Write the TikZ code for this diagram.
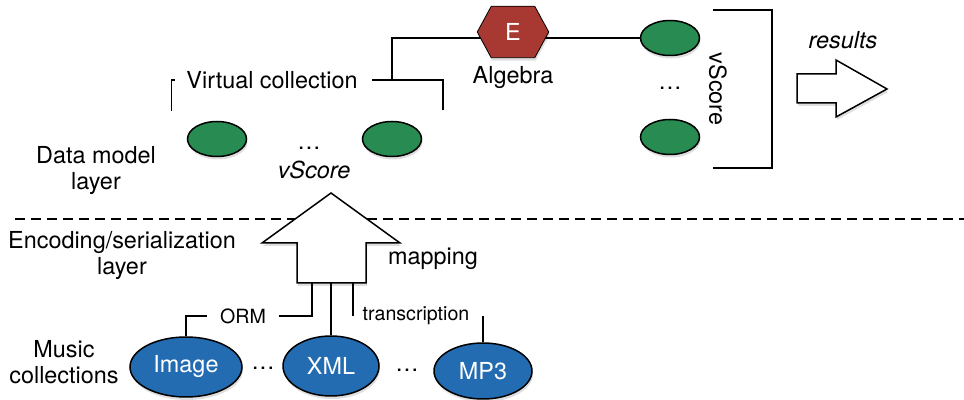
\documentclass[tikz,border=0pt]{standalone}
\usepackage{fontspec}
\setmainfont{TeX Gyre Heros}
\usetikzlibrary{shapes.geometric,shadows,backgrounds}
\definecolor{scoregreen}{RGB}{40,140,82}
\definecolor{collblue}{RGB}{36,108,178}
\definecolor{algred}{RGB}{168,56,50}
\begin{document}
\begin{tikzpicture}[x=0.5pt,y=-0.5pt,line width=0.75pt,
		font=\fontsize{11.7}{13}\selectfont,
		lbl/.style={inner sep=0pt,align=center},
		small/.style={inner sep=0pt,font=\fontsize{9.8}{12}\selectfont},
		softshadow/.style={drop shadow={opacity=0.25,shadow xshift=0.5pt,shadow yshift=-1.5pt}},
		vscore/.style={ellipse,draw,fill=scoregreen,inner sep=0pt,
			minimum width=29.5pt,minimum height=17.5pt,softshadow},
		coll/.style={ellipse,draw,fill=collblue,text=white,inner sep=0pt,
			minimum height=30pt,softshadow},
		blockarrow/.style={draw,fill=white,softshadow}]
		\useasboundingbox (0,0) rectangle (964,400);
		% layers
		\draw[dash pattern=on 5pt off 3pt] (15,219) -- (964,219);
		\node[lbl] (dm) at (96,171) {Data model\\layer};
		\node[lbl] (enc) at (122,256) {Encoding/serialization\\layer};
		\node[lbl] (mus) at (64,362) {Music\\collections};
		% music collections
		\node[coll,minimum width=56pt] (img) at (186,367) {Image};
		\node[coll,minimum width=48pt] (xml) at (331,366) {XML};
		\node[coll,minimum width=49pt,minimum height=28pt] (mp3) at (483,371) {MP3};
		\node[lbl] (d1) at (263,368) {\ldots};
		\node[lbl] (d2) at (407,370) {\ldots};
		% mapping arrow
		\draw[blockarrow] (297,283) -- (297,243) -- (262,243) -- (331,193)
			-- (400,243) -- (366,243) -- (366,283) -- cycle;
		\coordinate (mapL) at (312,283);
		\coordinate (mapC) at (331,283);
		\coordinate (mapR) at (353,283);
		\node[lbl] (map) at (433,259) {mapping};
		\node[small,inner xsep=6pt] (orm) at (243,316) {ORM};
		\node[small] (tr) at (416,316) {transcription};
		\draw (img.north) |- (orm.west);
		\draw (orm.east) -| (mapL);
		\draw (xml.north) -- (mapC);
		\draw (mapR) -- (mapR |- tr.west);
		\draw (mp3.north) -- (mp3.north |- tr.east);
		% virtual collection
		\node[vscore] (vl) at (217,139) {};
		\node[vscore] (vr) at (392,139) {};
		\node[lbl] (d3) at (309,148) {\ldots};
		\node[lbl] (vs) at (314,170) {\itshape vScore};
		\node[lbl,inner xsep=7pt] (vc) at (272,80) {Virtual collection};
		\coordinate (vcend) at (443,110);
		\coordinate (join) at (392,80);
		\draw ([xshift=1.5pt]vc.west) -- (vc.west) -- ++(0,31);
		\draw (vc.east) -| (vcend);
		% algebra
		\node[text=white,inner sep=0pt,minimum width=35pt,minimum height=25pt] (E) at (513,32) {E};
		\begin{scope}[on background layer]
			\filldraw[fill=algred,softshadow] (E.west) -- ([xshift=7pt]E.north west)
				-- ([xshift=-7pt]E.north east) -- (E.east) -- ([xshift=-7pt]E.south east)
				-- ([xshift=7pt]E.south west) -- cycle;
		\end{scope}
		\node[lbl] (alg) at (513,78) {Algebra};
		\node[vscore] (r1) at (670,38) {};
		\node[vscore] (r2) at (670,137) {};
		\node[lbl] (d4) at (670,88) {\ldots};
		\draw (join) |- ([xshift=1.7pt,yshift=-3pt]E.west);
		\draw ([xshift=-1.7pt,yshift=-3pt]E.east) -- (r1.west);
		% results
		\draw (713,10) -- (772,10) -- (772,168) -- (713,168);
		\node[lbl,rotate=-90] (rvs) at (718,89) {vScore};
		\node[lbl] (res) at (843,40) {\itshape results};
		\draw[blockarrow] (797,74) -- (836,74) -- (836,60) -- (887,89)
			-- (836,117) -- (836,103) -- (797,103) -- cycle;
	\end{tikzpicture}
\end{document}
